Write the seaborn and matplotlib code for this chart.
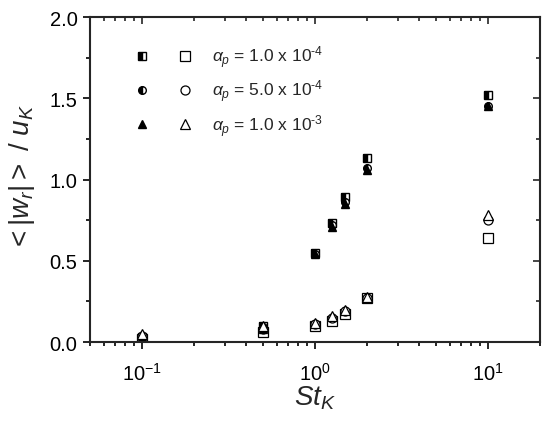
import matplotlib
matplotlib.use('Agg')
import matplotlib.pyplot as plt
import seaborn as sns
import pandas as pd
from matplotlib.legend_handler import HandlerTuple
from matplotlib.ticker import MultipleLocator

# Stokes numbers
st = [0.1, 0.5, 1.0, 1.25, 1.5, 2.0, 10.0]

# filled (half-filled) markers
sq_full = [0.03, 0.10, 0.55, 0.73, 0.89, 1.13, 1.52]
ci_full = [0.03, 0.09, 0.54, 0.72, 0.86, 1.07, 1.45]
tr_full = [0.03, 0.08, 0.54, 0.71, 0.85, 1.06, 1.45]

# open markers
sq_open = [0.02, 0.06, 0.10, 0.13, 0.17, 0.27, 0.64]
ci_open = [0.04, 0.08, 0.11, 0.15, 0.19, 0.27, 0.75]
tr_open = [0.05, 0.10, 0.12, 0.16, 0.20, 0.28, 0.78]

labels = [r'$\alpha_p$ = 1.0 x 10$^{\text{-4}}$',
          r'$\alpha_p$ = 5.0 x 10$^{\text{-4}}$',
          r'$\alpha_p$ = 1.0 x 10$^{\text{-3}}$']

sns.set_theme(style='ticks')
plt.rcParams['font.family'] = ['Liberation Sans', 'DejaVu Sans']
plt.rcParams['mathtext.fontset'] = 'custom'
plt.rcParams['mathtext.rm'] = 'Liberation Sans'
plt.rcParams['mathtext.it'] = 'Liberation Sans:italic'
plt.rcParams['mathtext.bf'] = 'Liberation Sans:bold'
plt.rcParams['axes.unicode_minus'] = False

fig = plt.figure(figsize=(5.5, 4.27), dpi=100)
ax = fig.add_axes([0.1636, 0.1967, 0.8182, 0.7611])

df = pd.DataFrame({'st': st})
handles = []
for full, opn, mk in [(sq_full, sq_open, 's'), (ci_full, ci_open, 'o'), (tr_full, tr_open, '^')]:
    df['full'] = full
    df['open'] = opn
    fs = 'left' if mk != '^' else 'full'
    sns.lineplot(data=df, x='st', y='full', ax=ax, linestyle='none', marker=mk,
                 markersize=5.5, markerfacecolor='black', markerfacecoloralt='white',
                 fillstyle=fs, markeredgecolor='black', markeredgewidth=1.0,
                 color='black', errorbar=None, sort=False)
    h1 = ax.lines[-1]
    sns.lineplot(data=df, x='st', y='open', ax=ax, linestyle='none', marker=mk,
                 markersize=6.5, markerfacecolor='white', markeredgecolor='black',
                 markeredgewidth=0.9, color='black', errorbar=None, sort=False)
    h2 = ax.lines[-1]
    handles.append((h1, h2))

ax.set_xscale('log')
ax.set_xlim(0.05, 20)
ax.set_ylim(0, 2.0)
ax.yaxis.set_major_locator(MultipleLocator(0.5))
ax.yaxis.set_minor_locator(MultipleLocator(0.25))
ax.set_yticks([0, 0.5, 1.0, 1.5, 2.0], ['0.0', '0.5', '1.0', '1.5', '2.0'])

ax.tick_params(which='both', direction='out', width=1.2, labelsize=14.5, colors='black')
ax.tick_params(which='major', length=5)
ax.tick_params(which='minor', length=3)
ax.tick_params(axis='x', which='both', pad=9)
ax.tick_params(axis='y', which='both', pad=4)
for s in ax.spines.values():
    s.set_linewidth(1.5)
    s.set_color('black')

# mirrored inward ticks on top and right
axt = ax.twiny()
axt.set_xscale('log')
axt.set_xlim(ax.get_xlim())
axt.tick_params(which='both', direction='in', labeltop=False, width=1.2)
axt.tick_params(which='major', length=5)
axt.tick_params(which='minor', length=3)
axr = ax.twinx()
axr.set_ylim(ax.get_ylim())
axr.yaxis.set_major_locator(MultipleLocator(0.5))
axr.yaxis.set_minor_locator(MultipleLocator(0.25))
axr.tick_params(which='both', direction='in', labelright=False, width=1.2)
axr.tick_params(which='major', length=5)
axr.tick_params(which='minor', length=3)

ax.set_xlabel(r'$St_K$', fontsize=20, labelpad=0)
ax.set_ylabel(r'$<|w_r|>\ /\ u_K$', fontsize=20)
ax.yaxis.set_label_coords(-0.118, 0.51)

ax.legend(handles, labels, handler_map={tuple: HandlerTuple(ndivide=None, pad=1.44)},
          loc='upper left', bbox_to_anchor=(0.08, 0.94), frameon=False,
          fontsize=12.5, handlelength=3.5, handletextpad=1.03, labelspacing=0.45,
          borderaxespad=0, borderpad=0.4)

fig.savefig('out.png', dpi=100)
